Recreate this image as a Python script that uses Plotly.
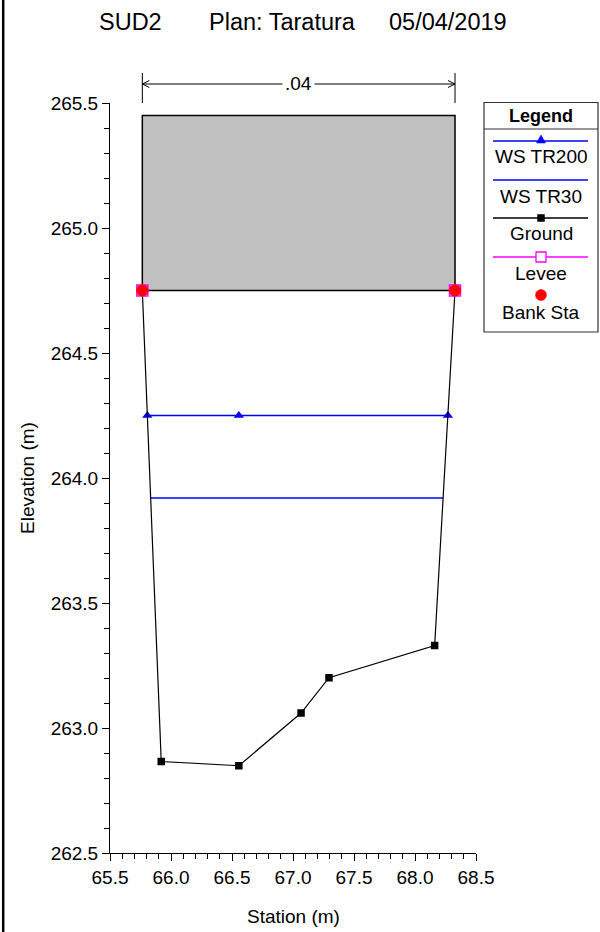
import plotly.graph_objects as go

# ---------------- data ----------------
ground_x = [65.765, 65.92, 66.556, 67.066, 67.295, 68.161, 68.328]
ground_y = [264.75, 262.866, 262.849, 263.06, 263.201, 263.33, 264.75]

ws200_x = [65.806, 66.556, 68.27]
ws200_y = [264.25, 264.25, 264.25]

ws30_x = [65.833, 68.23]
ws30_y = [263.92, 263.92]

levee_x = [65.765, 68.328]
levee_y = [264.75, 264.75]

bank_x = [65.765, 68.328]
bank_y = [264.75, 264.75]

deck_x = [65.765, 68.328]
deck_low = 264.75
deck_high = 265.45

n_value = ".04"
x_range = [65.5, 68.5]
y_range = [262.5, 265.5]

title_parts = ["SUD2", "Plan: Taratura", "05/04/2019"]
legend_names = ["WS TR200", "WS TR30", "Ground", "Levee", "Bank Sta"]

FONT = "Arial, Liberation Sans, sans-serif"
FS = 19

# ---------------- layout geometry (page pixels) ----------------
W, H = 600, 932
L, R, T, B = 110, 476, 103, 853   # plot area in pixels


def px(x):
    return (x - L) / (R - L)


def py(y):
    return (B - y) / (B - T)


fig = go.Figure()

# bridge deck
fig.add_trace(go.Scatter(
    x=[deck_x[0], deck_x[1], deck_x[1], deck_x[0], deck_x[0]],
    y=[deck_low, deck_low, deck_high, deck_high, deck_low],
    mode="lines", fill="toself", fillcolor="#c0c0c0",
    line=dict(color="black", width=1.5), showlegend=False, hoverinfo="skip"))

# WS TR30
fig.add_trace(go.Scatter(x=ws30_x, y=ws30_y, mode="lines",
                         line=dict(color="#0000ff", width=1.3),
                         name=legend_names[1], showlegend=False))
# WS TR200
fig.add_trace(go.Scatter(x=ws200_x, y=ws200_y, mode="lines+markers",
                         line=dict(color="#0000ff", width=1.3),
                         marker=dict(symbol="triangle-up", size=9, color="#0000ff"),
                         name=legend_names[0], showlegend=False))
# Ground
fig.add_trace(go.Scatter(x=ground_x, y=ground_y, mode="lines+markers",
                         line=dict(color="black", width=1.2),
                         marker=dict(symbol="square", size=7.5, color="black"),
                         name=legend_names[2], showlegend=False))
# Levee
fig.add_trace(go.Scatter(x=levee_x, y=levee_y, mode="markers",
                         marker=dict(symbol="square-open", size=11, color="#ff00ff",
                                     line=dict(width=1.5, color="#ff00ff")),
                         name=legend_names[3], showlegend=False, cliponaxis=False))
# Bank Sta
fig.add_trace(go.Scatter(x=bank_x, y=bank_y, mode="markers",
                         marker=dict(symbol="circle", size=12, color="#ff0000"),
                         name=legend_names[4], showlegend=False, cliponaxis=False))

shapes = []
annotations = []

# left frame border
shapes.append(dict(type="line", xref="paper", yref="paper",
                   x0=px(3.2), x1=px(3.2), y0=py(0), y1=py(H),
                   line=dict(color="black", width=2.5)))

# dimension line for n value
for xv in deck_x:
    shapes.append(dict(type="line", xref="x", yref="paper",
                       x0=xv, x1=xv, y0=py(73), y1=py(103),
                       line=dict(color="black", width=1)))
shapes.append(dict(type="line", xref="x", yref="paper",
                   x0=deck_x[0], x1=deck_x[1], y0=py(84), y1=py(84),
                   line=dict(color="black", width=1)))
dxu = 7 * (x_range[1] - x_range[0]) / (R - L)
shapes.append(dict(type="path", xref="x", yref="paper",
                   path=f"M {deck_x[0]+dxu},{py(80.5)} L {deck_x[0]},{py(84)} L {deck_x[0]+dxu},{py(87.5)}",
                   line=dict(color="black", width=1)))
shapes.append(dict(type="path", xref="x", yref="paper",
                   path=f"M {deck_x[1]-dxu},{py(80.5)} L {deck_x[1]},{py(84)} L {deck_x[1]-dxu},{py(87.5)}",
                   line=dict(color="black", width=1)))
annotations.append(dict(x=(deck_x[0] + deck_x[1]) / 2, y=py(84), xref="x", yref="paper",
                        text=n_value, showarrow=False, bgcolor="white",
                        font=dict(family=FONT, size=FS, color="black"),
                        xanchor="center", yanchor="middle", borderpad=2))

# title
for txt, xl in zip(title_parts, [97, 207, 387]):
    annotations.append(dict(x=px(xl), y=py(22), xref="paper", yref="paper",
                            text=txt, showarrow=False, xanchor="left", yanchor="middle",
                            font=dict(family=FONT, size=23.5, color="black")))

# axis titles
annotations.append(dict(x=px((L + R) / 2), y=py(916), xref="paper", yref="paper",
                        text="Station (m)", showarrow=False, xanchor="center", yanchor="middle",
                        font=dict(family=FONT, size=FS, color="black")))
annotations.append(dict(x=px(27), y=py((T + B) / 2), xref="paper", yref="paper",
                        text="Elevation (m)", showarrow=False, xanchor="center", yanchor="middle",
                        textangle=-90, font=dict(family=FONT, size=FS, color="black")))

# legend box
LX0, LX1, LY0, LY1 = 484, 598, 102.5, 332
shapes.append(dict(type="rect", xref="paper", yref="paper",
                   x0=px(LX0), x1=px(LX1), y0=py(LY1), y1=py(LY0),
                   line=dict(color="#333333", width=1.2), fillcolor="white"))
shapes.append(dict(type="line", xref="paper", yref="paper",
                   x0=px(LX0), x1=px(LX1), y0=py(129), y1=py(129),
                   line=dict(color="#333333", width=1.2)))
annotations.append(dict(x=px(541), y=py(116), xref="paper", yref="paper",
                        text="<b>Legend</b>", showarrow=False, xanchor="center", yanchor="middle",
                        font=dict(family=FONT, size=18, color="black")))

lx0, lx1, lc = 493, 588, 541
sample_y = [141, 180, 218, 257, 295]
text_y = [157, 196, 234, 273, 312]
line_cols = ["#0000ff", "#0000ff", "black", "#ff00ff", None]
for name, sy, ty, col in zip(legend_names, sample_y, text_y, line_cols):
    if col is not None:
        shapes.append(dict(type="line", xref="paper", yref="paper",
                           x0=px(lx0), x1=px(lx1), y0=py(sy), y1=py(sy),
                           line=dict(color=col, width=1.3)))
    annotations.append(dict(x=px(lc), y=py(ty), xref="paper", yref="paper",
                            text=name, showarrow=False, xanchor="center", yanchor="middle",
                            font=dict(family=FONT, size=FS, color="black")))

# legend symbols
sy = sample_y[0]
shapes.append(dict(type="path", xref="paper", yref="paper",
                   path=f"M {px(lc-4.5)},{py(sy+2)} L {px(lc+4.5)},{py(sy+2)} L {px(lc)},{py(sy-6)} Z",
                   fillcolor="#0000ff", line=dict(color="#0000ff", width=0.5)))
sy = sample_y[2]
shapes.append(dict(type="rect", xref="paper", yref="paper",
                   x0=px(lc-3.5), x1=px(lc+3.5), y0=py(sy+3.5), y1=py(sy-3.5),
                   fillcolor="black", line=dict(color="black", width=0.5)))
sy = sample_y[3]
shapes.append(dict(type="rect", xref="paper", yref="paper",
                   x0=px(lc-5), x1=px(lc+5), y0=py(sy+5), y1=py(sy-5),
                   fillcolor="white", line=dict(color="#ff00ff", width=1.3)))
sy = sample_y[4]
shapes.append(dict(type="circle", xref="paper", yref="paper",
                   x0=px(lc-5.5), x1=px(lc+5.5), y0=py(sy+5.5), y1=py(sy-5.5),
                   fillcolor="#ff0000", line=dict(color="#ff0000", width=0.5)))

axis_common = dict(showgrid=False, zeroline=False, showline=True, linecolor="black",
                   linewidth=1, ticks="outside", ticklen=7, tickwidth=1, tickcolor="black",
                   tickfont=dict(family=FONT, size=FS, color="black"))

fig.update_layout(
    width=W, height=H,
    margin=dict(l=L, r=W - R, t=T, b=H - B, autoexpand=False),
    paper_bgcolor="white", plot_bgcolor="white",
    showlegend=False,
    xaxis=dict(range=x_range, dtick=0.5, tick0=65.5, tickformat=".1f",
               minor=dict(dtick=0.1, ticks="outside", ticklen=5, tickcolor="black", tickwidth=1),
               **axis_common),
    yaxis=dict(range=y_range, dtick=0.5, tick0=262.5, tickformat=".1f",
               minor=dict(dtick=0.1, ticks="outside", ticklen=5, tickcolor="black", tickwidth=1),
               **axis_common),
    shapes=shapes,
    annotations=annotations,
)

# remove the default page margin so the figure sits at the window's top-left corner
fig.write_html("out.html",
               config={"displayModeBar": False, "staticPlot": True},
               post_script="document.body.style.margin='0';document.body.style.overflow='hidden';")
